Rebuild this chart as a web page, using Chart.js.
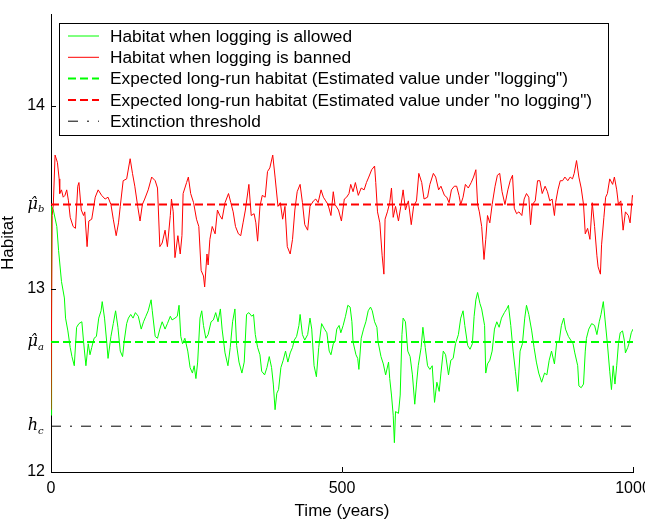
<!DOCTYPE html>
<html>
<head>
<meta charset="utf-8">
<script src="https://cdn.jsdelivr.net/npm/chart.js@4.4.1/dist/chart.umd.min.js"></script>
<style>
  html, body { margin: 0; padding: 0; background: #fff; }
  #grafico { display: block; }
</style>
</head>
<body>
<canvas id="grafico" width="645" height="529"></canvas>
<script>
// habitat con tala prohibida (rojo)
const redYears = [
  0, 2, 4, 7, 11, 14, 15, 18, 21, 24,
  27, 30, 33, 38, 42, 46, 48, 52, 56, 58,
  62, 65, 70, 76, 81, 87, 93, 98, 103, 107,
  112, 116, 119, 124, 130, 136, 140, 144, 149, 153,
  157, 161, 167, 173, 179, 183, 187, 191, 196, 200,
  205, 207, 210, 213, 218, 222, 225, 227, 233, 236,
  240, 245, 250, 254, 258, 262, 264, 268, 270, 273,
  277, 282, 286, 290, 294, 299, 305, 309, 313, 317,
  322, 326, 330, 334, 340, 344, 349, 352, 355, 359,
  363, 368, 372, 376, 381, 385, 390, 394, 398, 402,
  406, 411, 415, 419, 423, 428, 432, 436, 441, 445,
  451, 455, 459, 464, 468, 472, 476, 481, 485,
  488, 494, 499, 504, 508, 512, 515, 519, 523, 528,
  533, 538, 542, 546, 551, 556, 558, 561, 565, 569,
  572, 574, 578, 582, 585, 588, 592, 597, 601, 605,
  609, 614, 619, 623, 628, 632, 637, 641, 647, 651,
  657, 661, 666, 670, 676, 680, 684, 688, 693, 697,
  701, 704, 708, 712, 717, 722, 726, 730, 733, 736,
  740, 744, 747, 750, 754, 758, 763, 767, 771, 775,
  780, 785, 789, 793, 796, 800, 804, 809, 813, 817,
  821, 824, 827, 832, 836, 840, 844, 849, 853, 857,
  861, 865, 867, 871, 875, 879, 883, 888, 892, 896,
  899, 903, 907, 911, 915, 918, 922, 926, 930, 934,
  938, 940, 944, 946, 950, 953, 956, 960, 965, 968,
  972, 975, 979, 983, 987, 992, 995, 999, 1000
];
const redHabitat = [
  12.34, 13.40, 13.46, 13.73, 13.69, 13.60, 13.52, 13.54, 13.50, 13.51,
  13.54, 13.48, 13.39, 13.34, 13.33, 13.56, 13.58, 13.43, 13.40, 13.42,
  13.23, 13.37, 13.38, 13.50, 13.54, 13.51, 13.49, 13.50, 13.46, 13.38,
  13.29, 13.36, 13.45, 13.59, 13.60, 13.71, 13.63, 13.56, 13.45, 13.37,
  13.46, 13.49, 13.54, 13.61, 13.59, 13.55, 13.23, 13.25, 13.32, 13.23,
  13.40, 13.49, 13.42, 13.17, 13.29, 13.19, 13.29, 13.52, 13.58, 13.61,
  13.52, 13.47, 13.38, 13.34, 13.10, 13.07, 13.01, 13.19, 13.13, 13.27,
  13.34, 13.30, 13.43, 13.40, 13.38, 13.47, 13.52, 13.47, 13.42, 13.34,
  13.30, 13.29, 13.36, 13.43, 13.57, 13.40, 13.41, 13.36, 13.26, 13.45,
  13.51, 13.50, 13.64, 13.66, 13.73, 13.61, 13.45, 13.47, 13.38, 13.45,
  13.23, 13.19, 13.27, 13.43, 13.53, 13.57, 13.47, 13.35, 13.32, 13.45,
  13.48, 13.49, 13.47, 13.54, 13.50, 13.48, 13.46, 13.40, 13.53,
  13.46, 13.43, 13.37, 13.49, 13.50, 13.52, 13.57, 13.53, 13.58, 13.51,
  13.55, 13.54, 13.58, 13.61, 13.65, 13.67, 13.58, 13.42, 13.36, 13.18,
  13.08, 13.38, 13.42, 13.47, 13.55, 13.39, 13.45, 13.37, 13.45, 13.54,
  13.43, 13.48, 13.35, 13.45, 13.48, 13.63, 13.58, 13.49, 13.50, 13.57,
  13.63, 13.61, 13.54, 13.56, 13.51, 13.50, 13.47, 13.54, 13.56, 13.56,
  13.51, 13.46, 13.50, 13.57, 13.55, 13.58, 13.61, 13.65, 13.46, 13.42,
  13.34, 13.16, 13.27, 13.40, 13.36, 13.46, 13.56, 13.62, 13.63, 13.53,
  13.46, 13.54, 13.59, 13.62, 13.44, 13.41, 13.42, 13.40, 13.49, 13.52,
  13.50, 13.35, 13.46, 13.48, 13.59, 13.59, 13.52, 13.56, 13.53, 13.48,
  13.49, 13.40, 13.47, 13.54, 13.59, 13.59, 13.61, 13.59, 13.61, 13.60,
  13.63, 13.70, 13.61, 13.55, 13.46, 13.30, 13.33, 13.27, 13.47, 13.34,
  13.18, 13.12, 13.08, 13.24, 13.39, 13.50, 13.52, 13.60, 13.57, 13.61,
  13.54, 13.46, 13.48, 13.32, 13.42, 13.40, 13.36, 13.51, 13.50
];

// habitat con tala permitida (verde)
const greenYears = [
  0, 1, 4, 10, 13, 18, 23,
  25, 29, 33, 36, 40, 44, 48, 53, 56, 60,
  64, 67, 70, 74, 78, 82, 86, 88, 92, 96,
  98, 103, 107, 111, 115, 119, 123, 126, 130, 133,
  137, 141, 145, 150, 155, 159, 163, 167, 172, 174,
  179, 183, 187, 191, 196, 200, 205, 208, 213, 217,
  220, 223, 226, 230, 235, 239, 243, 246, 249, 252,
  256, 259, 262, 266, 270, 275, 279, 283, 287, 291,
  294, 299, 304, 308, 312, 316, 319, 323, 328, 332,
  336, 340, 345, 348, 351, 355, 359, 362, 367, 371,
  375, 379, 382, 385, 388, 391, 395, 399, 403, 407,
  411, 415, 418, 422, 426, 428, 432, 436, 441, 445,
  448, 452, 456, 460, 465, 470, 474, 478, 481, 485,
  488, 491, 495, 498, 502, 506, 510, 514, 517, 519,
  524, 527, 529, 533, 537, 541, 545, 549, 552, 556,
  560, 562, 567, 571, 575, 580, 582, 585, 588, 590,
  592, 597, 600, 603, 605, 609, 613, 617, 621, 625,
  628, 631, 636, 639, 643, 647, 651, 655, 659, 663,
  667, 670, 674, 678, 683, 687, 691, 695, 700, 704,
  708, 711, 716, 720, 724, 727, 730, 733, 737, 740,
  745, 747, 750, 754, 758, 762, 766, 770, 774, 779,
  783, 786, 790, 794, 798, 802, 806, 810, 814, 817,
  821, 826, 830, 834, 838, 843, 848, 852, 856, 860,
  865, 869, 873, 877, 881, 884, 889, 893, 897, 900,
  905, 907, 911, 915, 918, 920, 924, 929, 934, 938,
  942, 945, 949, 952, 956, 960, 963, 966, 969, 972,
  975, 978, 982, 985, 987, 991, 993, 997, 1000
];
const greenHabitat = [
  12.31, 13.45, 13.43, 13.34, 13.21, 13.04, 12.95,
  12.84, 12.77, 12.68, 12.63, 12.58, 12.79, 12.81, 12.82, 12.71, 12.58,
  12.70, 12.64, 12.68, 12.73, 12.74, 12.84, 12.88, 12.93, 12.84, 12.70,
  12.62, 12.74, 12.81, 12.88, 12.79, 12.66, 12.63, 12.72, 12.81, 12.84,
  12.86, 12.84, 12.87, 12.85, 12.78, 12.82, 12.85, 12.88, 12.94, 12.88,
  12.74, 12.73, 12.78, 12.82, 12.78, 12.81, 12.85, 12.83, 12.84, 12.85,
  12.91, 12.74, 12.70, 12.73, 12.66, 12.57, 12.54, 12.58, 12.51, 12.60,
  12.84, 12.88, 12.80, 12.73, 12.75, 12.82, 12.83, 12.87, 12.82, 12.89,
  12.78, 12.65, 12.58, 12.68, 12.82, 12.89, 12.69, 12.60, 12.54, 12.60,
  12.86, 12.87, 12.85, 12.86, 12.75, 12.68, 12.64, 12.55, 12.53, 12.57,
  12.63, 12.57, 12.48, 12.34, 12.43, 12.45, 12.57, 12.61, 12.66, 12.60,
  12.65, 12.68, 12.72, 12.74, 12.80, 12.86, 12.75, 12.72, 12.75, 12.84,
  12.78, 12.58, 12.52, 12.68, 12.81, 12.78, 12.76, 12.66, 12.64, 12.70,
  12.71, 12.78, 12.80, 12.76, 12.80, 12.85, 12.91, 12.90, 12.82, 12.71,
  12.64, 12.62, 12.56, 12.73, 12.78, 12.82, 12.88, 12.90, 12.88, 12.82,
  12.79, 12.71, 12.63, 12.59, 12.53, 12.60, 12.51, 12.42, 12.31, 12.16,
  12.33, 12.32, 12.42, 12.75, 12.84, 12.82, 12.66, 12.63, 12.53, 12.37,
  12.48, 12.58, 12.68, 12.79, 12.68, 12.58, 12.56, 12.58, 12.38, 12.49,
  12.44, 12.54, 12.66, 12.64, 12.53, 12.61, 12.62, 12.70, 12.75, 12.84,
  12.88, 12.80, 12.69, 12.67, 12.70, 12.85, 12.94, 12.98, 12.92, 12.89,
  12.80, 12.54, 12.59, 12.61, 12.66, 12.78, 12.82, 12.79, 12.84, 12.87,
  12.89, 12.91, 12.80, 12.66, 12.55, 12.44, 12.66, 12.70, 12.84, 12.91,
  12.86, 12.77, 12.68, 12.60, 12.54, 12.49, 12.54, 12.53, 12.61, 12.66,
  12.59, 12.71, 12.71, 12.80, 12.84, 12.78, 12.74, 12.72, 12.70, 12.65,
  12.58, 12.47, 12.46, 12.48, 12.66, 12.73, 12.78, 12.81, 12.80, 12.75,
  12.82, 12.86, 12.93, 12.83, 12.70, 12.55, 12.45, 12.58, 12.48, 12.58,
  12.70, 12.76, 12.77, 12.72, 12.65, 12.68, 12.70, 12.76, 12.78
];

const MU_A = 12.71;  // valor esperado de largo plazo con tala
const MU_B = 13.46;  // valor esperado de largo plazo sin tala
const H_C = 12.25;   // umbral de extincion

const xTicks = [0, 500, 1000];
const yTicks = [12, 13, 14];
const X_MIN = 0, X_MAX = 1000;
const Y_MIN = 12, Y_MAX = 14.5;

const etiquetas = [
  'Habitat when logging is allowed',
  'Habitat when logging is banned',
  'Expected long-run habitat (Estimated value under "logging")',
  'Expected long-run habitat (Estimated value under "no logging")',
  'Extinction threshold'
];

const marcasEje = [
  { valor: MU_B, base: 'μ\u0302', sub: 'b' },
  { valor: MU_A, base: 'μ\u0302', sub: 'a' },
  { valor: H_C, base: 'h', sub: 'c' }
];

const FUENTE = '"Liberation Sans", Arial, sans-serif';
const SERIF = '"DejaVu Serif", "Liberation Serif", serif';

function serie(anios, valores) {
  return anios.map((t, i) => ({ x: t, y: valores[i] }));
}

function horizontal(valor) {
  return [{ x: X_MIN, y: valor }, { x: X_MAX, y: valor }];
}

// marcas hacia adentro, etiquetas de mu y h, y la leyenda con recuadro
const extras = {
  id: 'extras',
  afterDraw(chart) {
    const ctx = chart.ctx;
    const sx = chart.scales.x, sy = chart.scales.y;
    const area = chart.chartArea;
    ctx.save();

    ctx.strokeStyle = '#000';
    ctx.lineWidth = 1;
    ctx.setLineDash([]);
    ctx.beginPath();
    yTicks.forEach(v => {
      const py = Math.round(sy.getPixelForValue(v)) + 0.5;
      ctx.moveTo(area.left, py);
      ctx.lineTo(area.left + 5, py);
    });
    xTicks.forEach(v => {
      const px = Math.round(sx.getPixelForValue(v)) + 0.5;
      ctx.moveTo(px, area.bottom);
      ctx.lineTo(px, area.bottom - 5);
    });
    ctx.stroke();

    ctx.fillStyle = '#000';
    marcasEje.forEach(m => {
      const py = sy.getPixelForValue(m.valor);
      ctx.font = 'italic 16px ' + SERIF;
      ctx.textAlign = 'right';
      ctx.textBaseline = 'middle';
      ctx.fillText(m.base, 38, py);
      ctx.font = 'italic 10px ' + SERIF;
      ctx.textAlign = 'left';
      ctx.fillText(m.sub, 38, py + 5);
    });

    // leyenda
    const caja = { x: 59.5, y: 23.5, w: 549, h: 112 };
    ctx.fillStyle = '#fff';
    ctx.fillRect(caja.x, caja.y, caja.w, caja.h);
    ctx.strokeStyle = '#000';
    ctx.lineWidth = 1;
    ctx.strokeRect(caja.x, caja.y, caja.w, caja.h);

    chart.data.datasets.forEach((ds, i) => {
      const py = 36 + i * 21.3;
      ctx.beginPath();
      ctx.strokeStyle = ds.borderColor;
      ctx.lineWidth = ds.borderWidth;
      ctx.setLineDash(ds.borderDash || []);
      ctx.moveTo(68, py);
      ctx.lineTo(99, py);
      ctx.stroke();
      ctx.setLineDash([]);
      ctx.fillStyle = '#000';
      ctx.font = '17.3px ' + FUENTE;
      ctx.textAlign = 'left';
      ctx.textBaseline = 'middle';
      ctx.fillText(ds.label, 110, py + 1);
    });

    ctx.restore();
  }
};

function crearGrafico() {
  const ctx = document.getElementById('grafico');
  return new Chart(ctx, {
    type: 'line',
    plugins: [extras],
    data: {
      datasets: [
        { label: etiquetas[0], data: serie(greenYears, greenHabitat), borderColor: '#00ff00', borderWidth: 1, order: 5 },
        { label: etiquetas[1], data: serie(redYears, redHabitat), borderColor: '#ff0000', borderWidth: 1, order: 4 },
        { label: etiquetas[2], data: horizontal(MU_A), borderColor: '#00ff00', borderWidth: 2, borderDash: [8, 4], order: 3 },
        { label: etiquetas[3], data: horizontal(MU_B), borderColor: '#ff0000', borderWidth: 2, borderDash: [8, 4], order: 2 },
        { label: etiquetas[4], data: horizontal(H_C), borderColor: '#000000', borderWidth: 1, borderDash: [10, 9, 2, 9], order: 1 }
      ]
    },
    options: {
      responsive: false,
      animation: false,
      devicePixelRatio: 1,
      layout: { padding: { top: 14, right: 12, left: 0, bottom: 0 } },
      elements: {
        point: { radius: 0, hoverRadius: 0 },
        line: { tension: 0, fill: false }
      },
      scales: {
        x: {
          type: 'linear',
          min: X_MIN,
          max: X_MAX,
          afterBuildTicks: s => { s.ticks = xTicks.map(v => ({ value: v })); },
          afterFit: s => { s.height = 57; s.paddingLeft = 0; s.paddingRight = 0; },
          grid: { display: true, drawOnChartArea: false, drawTicks: false },
          border: { display: true, color: '#000', width: 1 },
          ticks: {
            color: '#000', padding: 7, maxRotation: 0,
            font: { family: FUENTE, size: 16 },
            callback: v => String(v)
          },
          title: {
            display: true, text: 'Time (years)', color: '#000',
            font: { family: FUENTE, size: 17 }, padding: { top: 0, bottom: 7 }
          }
        },
        y: {
          type: 'linear',
          min: Y_MIN,
          max: Y_MAX,
          afterBuildTicks: s => { s.ticks = yTicks.map(v => ({ value: v })); },
          afterFit: s => { s.width = 51; s.paddingTop = 0; s.paddingBottom = 0; },
          grid: { display: true, drawOnChartArea: false, drawTicks: false },
          border: { display: true, color: '#000', width: 1 },
          ticks: {
            color: '#000', padding: 6,
            font: { family: FUENTE, size: 16 },
            callback: v => String(v)
          },
          title: {
            display: true, text: 'Habitat', color: '#000',
            font: { family: FUENTE, size: 17, lineHeight: 1 }, padding: { top: 0, bottom: 0 }
          }
        }
      },
      plugins: {
        legend: { display: false },
        tooltip: { enabled: false }
      }
    }
  });
}

window.onload = () => {
  crearGrafico();
};
</script>
</body>
</html>
